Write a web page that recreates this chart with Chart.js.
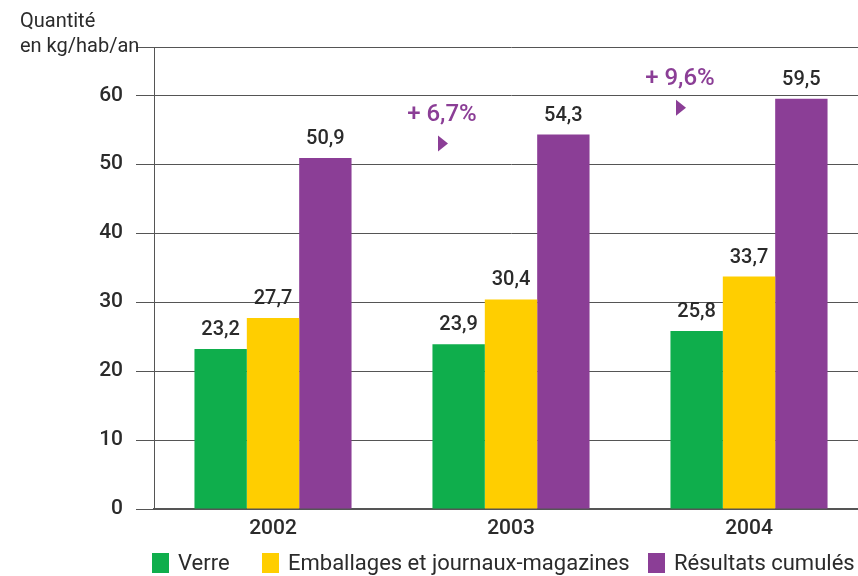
<!DOCTYPE html>
<html>
<head>
<meta charset="utf-8">
<script src="https://cdn.jsdelivr.net/npm/chart.js@4.4.1/dist/chart.umd.min.js"></script>
<style>
  html, body { margin: 0; padding: 0; background: #fff; overflow: hidden; }
  #wrap { width: 868px; height: 576px; }
</style>
</head>
<body>
<div id="wrap"><canvas id="c"></canvas></div>
<script>
const years = ['2002', '2003', '2004'];
const verre = [23.2, 23.9, 25.8];
const emballages = [27.7, 30.4, 33.7];
const cumules = [50.9, 54.3, 59.5];
const growth = ['', '+ 6,7%', '+ 9,6%'];
const yTicks = [0, 10, 20, 30, 40, 50, 60];

const TXT = '#2b2b2b';
const PURPLE = '#8b3e96';
const FONT = 'Roboto, "DejaVu Sans", sans-serif';
const legendX = [152, 262, 648];

const fmt = v => v.toFixed(1).replace('.', ',');

// title top-left, value labels above bars, growth notes, legend
const extras = {
  id: 'extras',
  afterDatasetsDraw(chart) {
    const ctx = chart.ctx;
    const x = chart.scales.x;
    ctx.save();
    ctx.fillStyle = TXT;
    ctx.font = '400 20px ' + FONT;
    ctx.textAlign = 'left';
    ctx.textBaseline = 'alphabetic';
    ctx.fillText('Quantité', 20, 27);
    ctx.fillText('en kg/hab/an', 20, 52);

    ctx.font = '500 20px ' + FONT;
    ctx.textAlign = 'center';
    chart.data.datasets.forEach((ds, i) => {
      chart.getDatasetMeta(i).data.forEach((bar, j) => {
        ctx.fillStyle = TXT;
        ctx.fillText(fmt(ds.data[j]), bar.x, bar.y - 14);
      });
    });

    const step = x.getPixelForValue(1) - x.getPixelForValue(0);
    const purple = chart.getDatasetMeta(2).data;
    growth.forEach((g, j) => {
      if (!g) return;
      const cx = x.getPixelForValue(j) - step * 0.29;
      const ty = purple[j].y - 14;
      ctx.fillStyle = PURPLE;
      ctx.font = '500 24px ' + FONT;
      ctx.fillText(g, cx, ty);
      ctx.beginPath();
      ctx.moveTo(cx - 4, ty + 15);
      ctx.lineTo(cx + 6, ty + 23);
      ctx.lineTo(cx - 4, ty + 31);
      ctx.closePath();
      ctx.fill();
    });

    // legend
    ctx.font = '400 22px ' + FONT;
    ctx.textAlign = 'left';
    ctx.textBaseline = 'middle';
    chart.data.datasets.forEach((ds, i) => {
      const lx = legendX[i];
      ctx.fillStyle = ds.backgroundColor;
      ctx.fillRect(lx, 553, 17, 20);
      ctx.fillStyle = TXT;
      ctx.fillText(ds.label, lx + 26, 564);
    });
    ctx.restore();
  }
};

new Chart(document.getElementById('c'), {
  type: 'bar',
  data: {
    labels: years,
    datasets: [
      { label: 'Verre', data: verre, backgroundColor: '#0fae4c' },
      { label: 'Emballages et journaux-magazines', data: emballages, backgroundColor: '#ffce00' },
      { label: 'Résultats cumulés', data: cumules, backgroundColor: PURPLE }
    ]
  },
  options: {
    responsive: true,
    maintainAspectRatio: false,
    animation: false,
    layout: { padding: { top: 47, right: 0, left: 0, bottom: 0 } },
    datasets: { bar: { barPercentage: 1, categoryPercentage: 0.66, borderWidth: 0 } },
    plugins: {
      legend: { display: false },
      tooltip: { enabled: false }
    },
    scales: {
      x: {
        grid: { display: false, drawTicks: false },
        border: { color: '#555', width: 2 },
        ticks: { color: TXT, padding: 7, font: { family: FONT, size: 21, weight: '500' } },
        afterFit: s => { s.height = 67; }
      },
      y: {
        min: 0, max: 67,
        afterBuildTicks: s => { s.ticks = yTicks.map(v => ({ value: v })).concat([{ value: 67 }]); },
        grid: { color: '#555', lineWidth: 1, tickLength: 18, drawTicks: true },
        border: { color: '#555', width: 1 },
        ticks: {
          color: TXT, padding: 13,
          font: { family: FONT, size: 21, weight: '500' },
          callback: v => (v % 10 === 0 ? v : '')
        },
        afterFit: s => { s.width = 154; }
      }
    }
  },
  plugins: [extras]
});
</script>
</body>
</html>
